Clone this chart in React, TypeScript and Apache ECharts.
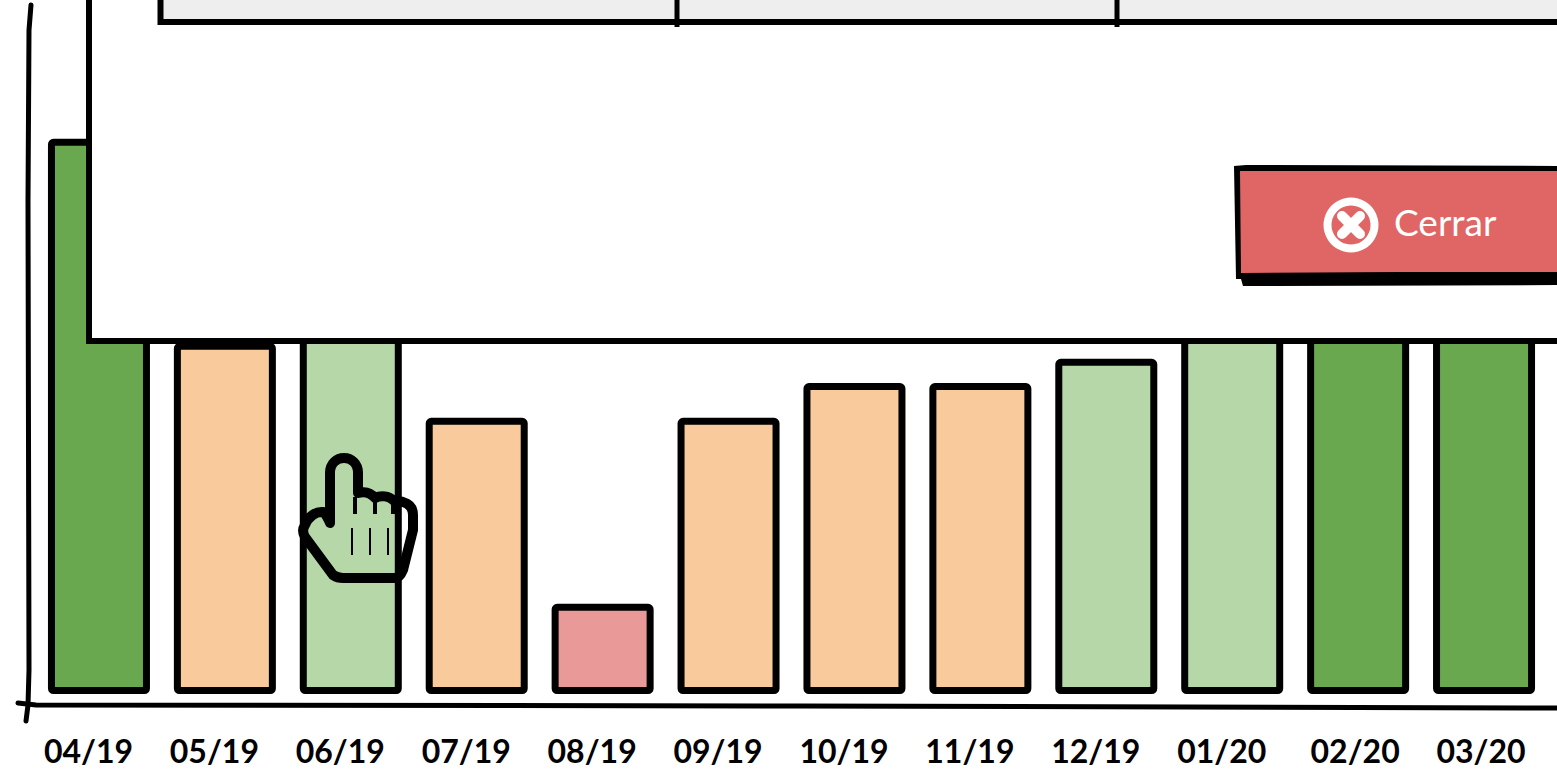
import React, { useEffect, useRef } from "react";
import * as echarts from "echarts";

const months = ["04/19", "05/19", "06/19", "07/19", "08/19", "09/19", "10/19", "11/19", "12/19", "01/20", "02/20", "03/20"];
const values = [80, 50.6, 52, 39.8, 13, 39.8, 44.8, 44.8, 48.3, 52, 60, 60];
const levels = ["high", "mid", "good", "mid", "low", "mid", "mid", "mid", "good", "good", "high", "high"];
const levelColors: Record<string, string> = { high: "#6aa84f", good: "#b6d7a8", mid: "#f9cb9c", low: "#ea9999" };
const buttonLabel = "Cerrar";

const HAND_OUTLINE =
  "M330 523 L330 473 C330 453 358 453 358 473 L358 493 C365 491 371 493 375 498 C381 495 389 496 393 500 L403 502 C410 504 413 509 413 515 L413 530 L403 570 C401 575 399 578 395 578 L343 578 C339 578 336 577 333 575 L305 537 C302 532 303 528 305 525 C308 517 316 511 323 512 C326 514 328 518 330 523 Z";
const HAND_KNUCKLES = "M355 497 L355 514 M375 500 L375 514 M393 502 L393 514";
const HAND_LINES = "M352 528 L352 555 M370 528 L370 555 M388 528 L388 555";

echarts.graphic.registerShape("handOutline", echarts.graphic.extendPath(HAND_OUTLINE, {}));
echarts.graphic.registerShape("handKnuckles", echarts.graphic.extendPath(HAND_KNUCKLES, {}));
echarts.graphic.registerShape("handLines", echarts.graphic.extendPath(HAND_LINES, {}));

export default function App() {
  const ref = useRef<HTMLDivElement>(null);
  useEffect(() => {
    const chart = echarts.init(ref.current!, null, { renderer: "svg" });
    const labelFont = { fontFamily: "Lato", fontSize: 32, fontWeight: 700, color: "#000" };
    chart.setOption({
      animation: false,
      backgroundColor: "#fff",
      grid: { left: 36, top: 0, width: 1511, bottom: 85 },
      xAxis: {
        type: "category",
        data: months,
        axisLine: { show: false },
        axisTick: { show: false },
        axisLabel: {
          interval: 0,
          margin: 40,
          formatter: (v: string, i: number) => (i >= 10 ? `{b|${v}}` : `{a|${v}}`),
          rich: {
            a: { ...labelFont, padding: [0, 21, 0, 0] },
            b: { ...labelFont, padding: [0, 6, 0, 0] },
          },
        },
      },
      yAxis: { type: "value", min: 0, max: 100, show: false },
      series: [
        {
          type: "bar",
          barWidth: 102,
          data: values.map((v, i) => ({
            value: v,
            itemStyle: { color: levelColors[levels[i]], borderColor: "#000", borderWidth: 7, borderRadius: 2 },
          })),
        },
      ],
      graphic: [
        { type: "polyline", z: 50, shape: { points: [[31, 5], [29, 30], [28, 200], [29, 670], [28, 705], [26, 721]] }, style: { stroke: "#000", lineWidth: 5, fill: "none", lineCap: "round" } },
        { type: "polyline", z: 50, shape: { points: [[18, 703], [36, 705], [800, 706], [1557, 708]] }, style: { stroke: "#000", lineWidth: 5, fill: "none", lineCap: "round" } },
        { type: "rect", z: 60, shape: { x: 89, y: -20, width: 1600, height: 361 }, style: { fill: "#fff", stroke: "#000", lineWidth: 6 } },
        { type: "rect", z: 61, shape: { x: 160.5, y: -20, width: 1500, height: 42 }, style: { fill: "#eeeeee", stroke: "#000", lineWidth: 6 } },
        { type: "line", z: 62, shape: { x1: 677, y1: 0, x2: 677, y2: 27 }, style: { stroke: "#000", lineWidth: 5 } },
        { type: "line", z: 62, shape: { x1: 1117, y1: 0, x2: 1117, y2: 27 }, style: { stroke: "#000", lineWidth: 5 } },
        { type: "polygon", z: 63, shape: { points: [[1234, 166], [1246, 165], [1600, 166], [1600, 285], [1243, 286], [1241, 279], [1236, 279]] }, style: { fill: "#000" } },
        { type: "polygon", z: 64, shape: { points: [[1240, 171], [1600, 171], [1600, 272], [1400, 272], [1241, 273]] }, style: { fill: "#e06666" } },
        { type: "ring", z: 65, shape: { cx: 1351, cy: 225, r: 27.5, r0: 19.5 }, style: { fill: "#fff" } },
        { type: "line", z: 65, shape: { x1: 1342, y1: 216, x2: 1360, y2: 234 }, style: { stroke: "#fff", lineWidth: 10, lineCap: "round" } },
        { type: "line", z: 65, shape: { x1: 1360, y1: 216, x2: 1342, y2: 234 }, style: { stroke: "#fff", lineWidth: 10, lineCap: "round" } },
        { type: "text", z: 65, style: { x: 1394, y: 221, text: buttonLabel, fill: "#fff", font: "400 37px Lato", textVerticalAlign: "middle", textBaseline: "middle" } },
        { type: "handOutline", z: 70, style: { fill: "none", stroke: "#000", lineWidth: 10, lineJoin: "round" } },
        { type: "handKnuckles", z: 70, style: { fill: "none", stroke: "#000", lineWidth: 4 } },
        { type: "handLines", z: 70, style: { fill: "none", stroke: "#000", lineWidth: 2 } },
      ],
    });
    return () => chart.dispose();
  }, []);
  return <div ref={ref} style={{ position: "absolute", left: 0, top: 0, width: 1557, height: 779 }} />;
}
